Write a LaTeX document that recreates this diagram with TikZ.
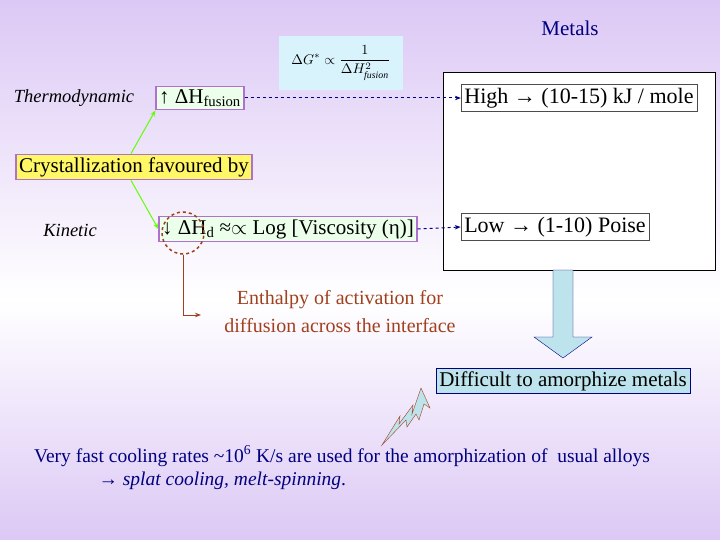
\documentclass[tikz,border=0pt]{standalone}
\usepackage{fontspec}
\setmainfont{Liberation Serif}
\usetikzlibrary{arrows.meta}
\definecolor{bgtop}{HTML}{DCC8F5}
\definecolor{pborder}{HTML}{B070D0}
\definecolor{navy}{HTML}{000080}
\definecolor{brownred}{HTML}{A0401E}
\definecolor{lblue}{HTML}{BDE3EC}
\tikzset{
  pbox/.style={draw=pborder,line width=1.5pt,fill=green!8,inner sep=3pt,font=\fontsize{21}{23}\selectfont},
  wbox/.style={draw=gray!60!black,fill=white,font=\fontsize{22}{24}\selectfont},
  garrow/.style={draw=green!50!lime,line width=1pt,-{Stealth[length=6pt]}},
  darrow/.style={draw=navy,dashed,line width=1pt,-{Stealth[length=6pt]}},
  lbl/.style={font=\itshape\fontsize{18.5}{20}\selectfont}
}
\begin{document}
\begin{tikzpicture}[x=1pt,y=-1pt]
\useasboundingbox (0,0) rectangle (720,540);
\shade[top color=bgtop,bottom color=white] (0,0) rectangle (720,300);
\shade[top color=white,bottom color=bgtop] (0,300) rectangle (720,540);
\node[text=navy,font=\fontsize{21}{23}\selectfont] (metals) at (570,28) {Metals};
\node[draw=black,fill=white,minimum width=272pt,minimum height=198pt] (big) at (579,171) {};
\node[wbox] (high) at (579,98) {High → (10-15) kJ / mole};
\node[wbox] (low) at (555,227) {Low → (1-10) Poise};
\node[fill=cyan!15,minimum width=124pt,minimum height=54pt,inner sep=0pt] (form) at (341,63)
  {\scalebox{1.4}{$\displaystyle \Delta G^{*}\propto\frac{1}{\Delta H^{2}_{\mathit{fusion}}}$}};
\node[pbox] (dhf) at (200,98) {↑ ΔH\textsubscript{fusion}};
\node[pbox,fill=yellow!60] (cryst) at (134,167) {Crystallization favoured by};
\node[pbox] (kin) at (288,229) {↓ ΔH\textsubscript{d} ≈$\propto$ Log [Viscosity (η)]};
\node[lbl] (thermo) at (74,98) {Thermodynamic};
\node[lbl] (kinetic) at (70,230) {Kinetic};
\draw[garrow] ([xshift=-3pt]cryst.north) -- (dhf.south west);
\draw[garrow] ([xshift=-3pt]cryst.south) -- (kin.west);
\draw[darrow] (dhf.east) -- (high.west);
\draw[darrow] (kin.east) -- (low.west);
\node[draw=brownred,dashed,circle,line width=1.5pt,minimum size=42pt] (circ) at (183,233) {};
\coordinate (bend) at (circ.south |- 0,315);
\draw[brownred,line width=1pt,-{Stealth[length=6pt]}] (circ.south) -- (bend) -- ++(18,0) coordinate (tip);
\node[text=brownred,align=center,font=\fontsize{20}{28}\selectfont] (enth) at (340,312)
  {Enthalpy of activation for\\diffusion across the interface};
\filldraw[draw=navy,fill=lblue] (553,270) -- (573,270) -- (573,337) -- (592,337) -- (563,358) -- (534,337) -- (553,337) -- cycle;
\node[draw=navy,fill=lblue,font=\fontsize{21}{23}\selectfont,inner sep=3pt] (diff) at (563,381) {Difficult to amorphize metals};
\filldraw[draw=brownred,fill=lblue] (382,445) -- (400,416) -- (399,424) -- (413,405) -- (412,414) -- (421,388) -- (430,408) -- (424,404) -- (419,420) -- (416,414) -- (407,427) -- (406,420) -- cycle;
\node[text=navy,font=\fontsize{19.5}{21}\selectfont] (bottom1) at (342,456)
  {Very fast cooling rates \textasciitilde10\textsuperscript{6} K/s are used for the amorphization of \ usual alloys};
\node[text=navy,font=\fontsize{19.5}{21}\selectfont,anchor=west] (bottom2) at (95,481)
  {→ \textit{splat cooling, melt-spinning}.};
\end{tikzpicture}
\end{document}
